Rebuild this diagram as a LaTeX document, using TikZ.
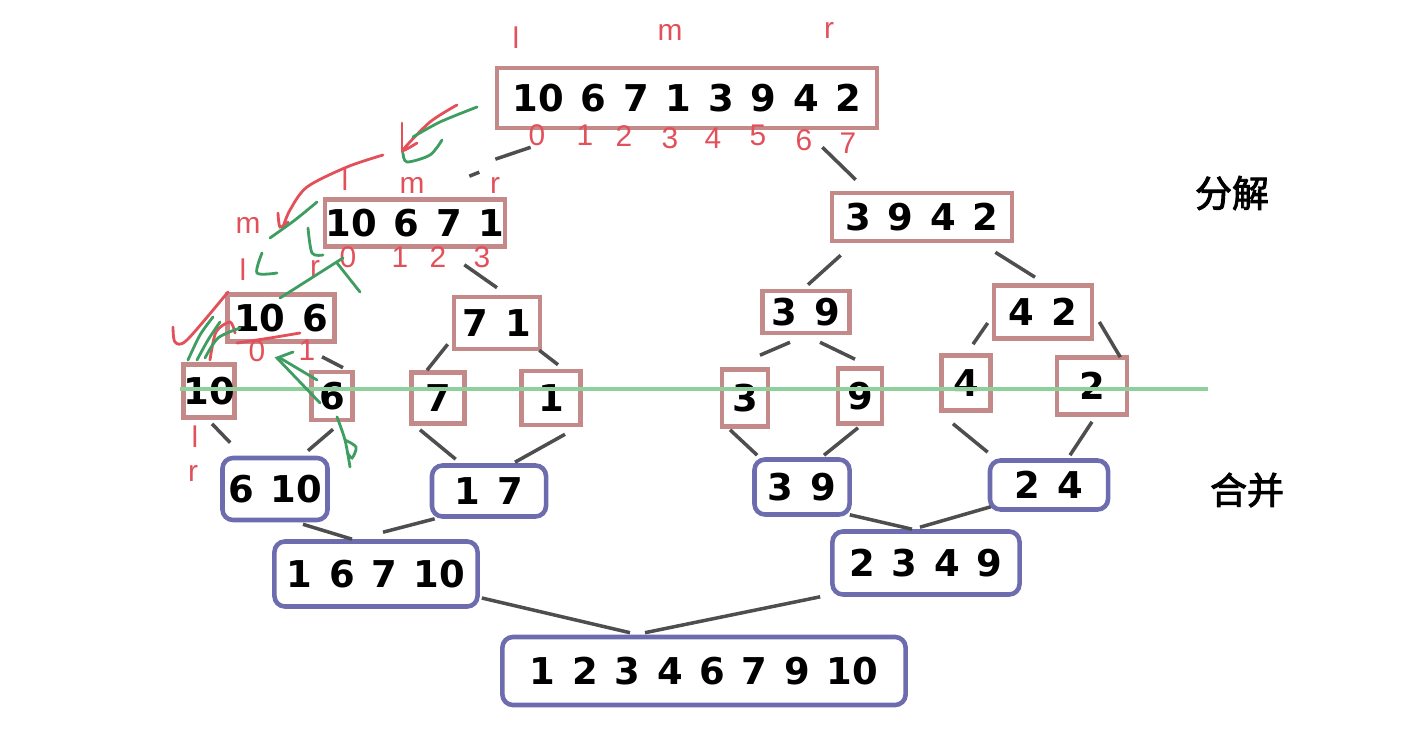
\documentclass[tikz,border=0pt]{standalone}
\usepackage{fontspec}
\setmainfont{DejaVu Sans}[WordSpace=1.3]
\newfontfamily\handfont{Liberation Sans}
\newfontfamily\cjk[AutoFakeBold=2.5]{Noto Sans CJK SC}
\usetikzlibrary{positioning,calc}
\definecolor{boxred}{HTML}{C48A8A}
\definecolor{boxblue}{HTML}{6C6CAE}
\definecolor{inkred}{HTML}{E2505A}
\definecolor{inkgreen}{HTML}{3E9E62}
\definecolor{cutgreen}{HTML}{8ED09C}
\definecolor{linkgray}{HTML}{4E4E4E}
\tikzset{
  wh/.style 2 args={minimum width=#1mm,minimum height=#2mm},
  splitbox/.style={draw=boxred,line width=1.3pt,fill=white,inner sep=0pt,
    font=\fontsize{10.5}{12}\selectfont\bfseries},
  mergebox/.style={splitbox,draw=boxblue,rounded corners=3pt},
  ptr/.style={text=inkred,inner sep=0pt,font=\handfont\fontsize{8.5}{10}\selectfont},
  link/.style={draw=linkgray,line width=1pt},
  redink/.style={draw=inkred,line width=0.8pt,line cap=round},
  greenink/.style={draw=inkgreen,line width=0.8pt,line cap=round},
}
\begin{document}
\begin{tikzpicture}[x=0.01cm,y=-0.01cm]
  \useasboundingbox (0,0) rectangle (1418,740);

  \node[splitbox,wh={38}{6}] (top) at (687,98) {10 6 7 1 3 9 4 2};
  \node[splitbox,wh={18}{4.7}] (half1) at (415,223) {10 6 7 1};
  \node[splitbox,wh={18}{4.8}] (half2) at (922,217) {3 9 4 2};
  \node[splitbox,wh={10.7}{4.7}] (q1) at (281,318) {10 6};
  \node[splitbox,wh={8.6}{5.2}] (q2) at (497,323) {7 1};
  \node[splitbox,wh={8.7}{4.2}] (q3) at (806,312) {3 9};
  \node[splitbox,wh={9.8}{5.3}] (q4) at (1043,312) {4 2};
  \foreach \v/\x/\y/\w/\h in {10/209/391/5/5.3, 6/332/396/4.1/4.8, 7/438/398/5.3/5.1, 1/551/398/5.9/5.4,
                              3/745/398/4.6/5.7, 9/860/396/4.4/5.5, 4/966/383/4.9/5.5, 2/1092/386/7/5.7}
    \node[splitbox,wh={\w}{\h}] (c\v) at (\x,\y) {\v};

  \node[mergebox,wh={10.5}{6.2}] (m610) at (275,489) {6 10};
  \node[mergebox,wh={11.4}{5.1}] (m17) at (489,491) {1 7};
  \node[mergebox,wh={9.5}{5.5}] (m39) at (802,487) {3 9};
  \node[mergebox,wh={11.8}{4.9}] (m24) at (1049,485) {2 4};
  \node[mergebox,wh={20.3}{6.5}] (mleft) at (376,574) {1 6 7 10};
  \node[mergebox,wh={18.7}{6.3}] (mright) at (926,563) {2 3 4 9};
  \node[mergebox,wh={40.3}{6.8}] (sorted) at (704,671) {1 2 3 4 6 7 9 10};

  \node[font=\cjk\bfseries\fontsize{10.5}{12}\selectfont] (split) at (1232,193) {分解};
  \node[font=\cjk\bfseries\fontsize{10.5}{12}\selectfont] (merge) at (1247,490) {合并};

  % pointers and indices
  \node[ptr] (tl) at (516,38) {l};
  \node[ptr] (tm) at (670,32) {m};
  \node[ptr] (tr) at (829,30) {r};
  \foreach \x/\y/\i in {537/135/0, 585/135/1, 624/136/2, 670/138/3, 713/138/4, 758/135/5, 804/140/6, 848/143/7}
    \node[ptr] (ti\i) at (\x,\y) {\i};
  \node[ptr] (hl) at (345,180) {l};
  \node[ptr] (hm) at (412,185) {m};
  \node[ptr] (hr) at (495,185) {r};
  \foreach \x/\i in {348/0, 400/1, 438/2, 482/3}
    \node[ptr] (hi\i) at (\x,257) {\i};
  \node[ptr] (ql) at (243,270) {l};
  \node[ptr] (qm) at (248,225) {m};
  \node[ptr] (qr) at (315,268) {r};
  \node[ptr] (qi0) at (257,351) {0};
  \node[ptr] (qi1) at (307,350) {1};
  \node[ptr] (cl) at (195,437) {l};
  \node[ptr] (cr) at (193,473) {r};

  % connectors
  \draw[link] ($(top.south west)+(36,17)$) -- ($(half1.north east)+(-12,-38)$);
  \draw[link] ($(half1.north east)+(-28,-25)$) -- ($(half1.north east)+(-38,-21)$);
  \draw[link] ($(top.south east)+(-57,17)$) -- ($(half2.north west)+(26,-11)$);
  \draw[link] ($(half1.south east)+(-43,16)$) -- ($(q2.north)+(0,-7)$);
  \draw[link] ($(half2.south west)+(11,12)$) -- ($(q3.north)+(2,-4)$);
  \draw[link] ($(half2.south east)+(-19,9)$) -- ($(q4.north)+(-8,-6)$);
  \draw[link] ($(q3.south)+(-16,7)$) -- ($(c3.north)+(15,-12)$);
  \draw[link] ($(q3.south)+(14,7)$) -- ($(c9.north)+(-5,-7)$);
  \draw[link] ($(q4.west)+(-4,11)$) -- ($(c4.north)+(7,-9)$);
  \draw[link] ($(q4.east)+(5,10)$) -- ($(c2.north east)+(-9,2)$);
  \draw[link] ($(q2.south west)+(-4,-7)$) -- ($(c7.north)+(-11,0)$);
  \draw[link] ($(q2.south east)+(-3,-1)$) -- ($(c1.north)+(7,-4)$);
  \draw[link] ($(q1.south)+(41,13)$) -- ($(c6.north)+(11,-2)$);
  \draw[link] ($(c10.south)+(3,4)$) -- ($(m610.north west)+(10,-13)$);
  \draw[link] ($(c6.south)+(1,7)$) -- ($(m610.north)+(33,-5)$);
  \draw[link] ($(c7.south)+(-18,4)$) -- ($(m17.north west)+(26,-4)$);
  \draw[link] ($(c1.south)+(14,7)$) -- ($(m17.north)+(26,-1)$);
  \draw[link] ($(c3.south)+(-15,1)$) -- ($(m39.north west)+(5,-2)$);
  \draw[link] ($(c9.south)+(-2,2)$) -- ($(m39.north)+(22,-2)$);
  \draw[link] ($(c4.south)+(-13,11)$) -- ($(m24.north west)+(0,-6)$);
  \draw[link] ($(c2.south)+(0,5)$) -- ($(m24.north)+(21,-3)$);
  \draw[link] ($(m610.south)+(28,2)$) -- ($(mleft.north)+(-24,0)$);
  \draw[link] ($(m17.south west)+(5,0)$) -- ($(mleft.north)+(7,-7)$);
  \draw[link] ($(m39.south east)+(-2,-2)$) -- ($(mright.north)+(-14,0)$);
  \draw[link] ($(m24.south west)+(3,-5)$) -- ($(mright.north)+(-6,-2)$);
  \draw[link] ($(mleft.east)+(2,24)$) -- ($(sorted.north)+(-74,-2)$);
  \draw[link] ($(mright.south west)+(-10,0)$) -- ($(sorted.north)+(-59,-2)$);

  \draw[draw=cutgreen,line width=1.4pt] (180,389) -- (1208,389);

  % hand marks
  \draw[redink] plot[smooth] coordinates {(457,105) (430,122) (403,150) (417,143)};
  \draw[redink] (402,123) -- (402,152);
  \draw[redink] plot[smooth] coordinates {(383,155) (347,167) (307,187) (290,210) (283,227)};
  \draw[redink] plot[smooth] coordinates {(278,213) (280,227) (288,222)};
  \draw[redink] plot[smooth] coordinates {(173,327) (175,342) (187,340) (228,292)};
  \draw[redink] plot[smooth] coordinates {(210,360) (216,332) (230,322) (235,333)};
  \draw[redink] plot[smooth] coordinates {(237,343) (270,338) (300,333)};
  \draw[greenink] plot[smooth] coordinates {(477,107) (440,122) (413,137)};
  \draw[greenink] plot[smooth] coordinates {(442,140) (430,155) (407,162) (403,153)};
  \draw[greenink] plot[smooth] coordinates {(317,202) (295,220) (270,238)};
  \draw[greenink] plot[smooth] coordinates {(262,253) (257,273) (277,273)};
  \draw[greenink] plot[smooth] coordinates {(308,228) (312,253) (323,255)};
  \draw[greenink] (343,258) -- (280,298);
  \draw[greenink] (337,263) -- (360,292);
  \draw[greenink] plot[smooth] coordinates {(188,360) (200,335) (213,317)};
  \draw[greenink] plot[smooth] coordinates {(197,360) (208,340) (220,322)};
  \draw[greenink] plot[smooth] coordinates {(205,358) (218,338) (240,328)};
  \draw[greenink] (320,403) -- (277,358) -- (293,352);
  \draw[greenink] (317,380) -- (280,358);
  \draw[greenink] plot[smooth] coordinates {(337,417) (345,440) (350,467)};
  \draw[greenink] plot[smooth] coordinates {(345,440) (356,447) (352,458) (347,452)};
\end{tikzpicture}
\end{document}
